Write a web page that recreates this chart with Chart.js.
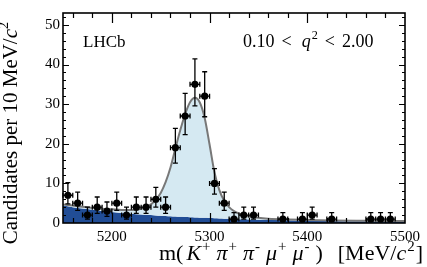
<!DOCTYPE html>
<html>
<head>
<meta charset="utf-8">
<script src="https://cdn.jsdelivr.net/npm/chart.js@4.4.1/dist/chart.umd.min.js"></script>
<style>
  html, body { margin: 0; padding: 0; background: #ffffff; }
  #wrap { width: 427px; height: 267px; }
</style>
</head>
<body>
<div id="wrap"><canvas id="c" width="427" height="267"></canvas></div>
<script>
// ---------- data ----------
const binCenters = [5155,5165,5175,5185,5195,5205,5215,5225,5235,5245,5255,5265,5275,5285,5295,5305,5315,5325,5335,5345,5355,5365,5375,5385,5395,5405,5415,5425,5435,5445,5455,5465,5475,5485,5495];
const counts     = [7,5,2,4,3,5,2,4,4,6,4,19,27,35,32,10,5,1,2,2,0,0,1,0,1,2,0,1,0,0,0,1,1,1,0];
const binHalfWidth = 5;

const curveX   = [5150,5160,5170,5180,5190,5200,5210,5220,5230,5235,5240,5245,5250,5255,5260,5265,5270,5275,5280,5285,5290,5295,5300,5305,5310,5315,5320,5325,5330,5335,5340,5350,5360,5380,5400,5425,5450,5475,5500];
const totalFit = [4.7,4.4,4.1,3.85,3.6,3.45,3.3,3.3,3.6,4.0,4.7,5.9,7.6,10.3,14.0,18.8,23.4,27.5,30.5,31.6,30.4,26.5,19.8,12.8,8.3,5.6,4.0,3.0,2.4,1.95,1.65,1.3,1.1,0.9,0.78,0.66,0.58,0.53,0.48];
const bkgFit   = [4.4,4.0,3.65,3.35,3.05,2.8,2.55,2.35,2.15,2.07,2.0,1.92,1.85,1.78,1.7,1.62,1.55,1.5,1.45,1.4,1.35,1.3,1.25,1.2,1.15,1.1,1.05,1.0,0.97,0.93,0.9,0.85,0.8,0.7,0.6,0.52,0.45,0.4,0.35];

const xTickValues = [5200,5300,5400,5500];
const yTickValues = [0,10,20,30,40,50];
const xRange = [5150,5500];
const yRange = [0,53];

// ---------- styles ----------
const DARK_BLUE = 'rgb(33,77,150)';
const LIGHT_BLUE = 'rgb(213,233,242)';
const FIT_GREY = 'rgb(120,120,120)';
const SERIF = '"Liberation Serif", "DejaVu Serif", serif';

function poissonUp(n){ return Math.sqrt(n + 0.25) + 0.5; }
function poissonDn(n){ return Math.sqrt(n + 0.25) - 0.5; }

function drawRich(ctx, segs, x, y, size, align) {
  let total = 0;
  const parts = segs.map(s => {
    const fs = s.sup ? size * 0.68 : size;
    const font = (s.italic ? 'italic ' : '') + fs + 'px ' + SERIF;
    ctx.font = font;
    const w = ctx.measureText(s.t).width;
    const pad = s.pad || 0;
    total += w + pad;
    return {t: s.t, font, w, pad, dy: s.sup ? -size * 0.42 : 0};
  });
  let cx = align === 'right' ? x - total : (align === 'center' ? x - total / 2 : x);
  ctx.textBaseline = 'alphabetic';
  ctx.textAlign = 'left';
  parts.forEach(p => {
    ctx.font = p.font;
    ctx.fillText(p.t, cx, y + p.dy);
    cx += p.w + p.pad;
  });
}

const decor = {
  id: 'decor',
  afterDatasetsDraw(chart) {
    const ctx = chart.ctx;
    const xs = chart.scales.x, ys = chart.scales.y;
    const a = chart.chartArea;
    ctx.save();
    // error bars
    ctx.strokeStyle = '#000';
    ctx.lineWidth = 1.3;
    ctx.beginPath();
    binCenters.forEach((c, i) => {
      const n = counts[i];
      if (!n) return;
      const px = xs.getPixelForValue(c);
      const py = ys.getPixelForValue(n);
      const xl = xs.getPixelForValue(c - binHalfWidth);
      const xr = xs.getPixelForValue(c + binHalfWidth);
      const yt = ys.getPixelForValue(n + poissonUp(n));
      const yb = ys.getPixelForValue(n - poissonDn(n));
      ctx.moveTo(xl, py); ctx.lineTo(xr, py);
      ctx.moveTo(xl, py - 2.5); ctx.lineTo(xl, py + 2.5);
      ctx.moveTo(xr, py - 2.5); ctx.lineTo(xr, py + 2.5);
      ctx.moveTo(px, yt); ctx.lineTo(px, Math.min(yb, a.bottom));
      ctx.moveTo(px - 2.5, yt); ctx.lineTo(px + 2.5, yt);
      if (yb < a.bottom - 1) { ctx.moveTo(px - 2.5, yb); ctx.lineTo(px + 2.5, yb); }
    });
    ctx.stroke();
    // frame
    ctx.lineWidth = 1.6;
    ctx.strokeRect(a.left, a.top, a.right - a.left, a.bottom - a.top);
    // ticks
    ctx.lineWidth = 1.2;
    ctx.beginPath();
    for (let v = 5160; v < xRange[1]; v += 20) {
      const px = Math.round(xs.getPixelForValue(v)) + 0.5;
      const len = (v % 100 === 0) ? 10 : 5;
      ctx.moveTo(px, a.bottom); ctx.lineTo(px, a.bottom - len);
      ctx.moveTo(px, a.top); ctx.lineTo(px, a.top + len);
    }
    for (let v = 2; v < yRange[1]; v += 2) {
      const py = Math.round(ys.getPixelForValue(v)) + 0.5;
      const len = (v % 10 === 0) ? 6 : 3;
      ctx.moveTo(a.left, py); ctx.lineTo(a.left + len, py);
      ctx.moveTo(a.right, py); ctx.lineTo(a.right - len, py);
    }
    ctx.stroke();
    // texts
    ctx.fillStyle = '#000';
    drawRich(ctx, [{t:'LHCb'}], 83, 47, 17, 'left');
    drawRich(ctx, [{t:'0.10', pad:7},{t:'<', pad:10},{t:'q',italic:true, pad:1},{t:'2',sup:true, pad:7},{t:'<', pad:7},{t:'2.00'}], 243, 47, 18, 'left');
    drawRich(ctx, [{t:'m(', pad:3},{t:'K',italic:true, pad:1},{t:'+',sup:true, pad:6},{t:'π',italic:true, pad:1},{t:'+',sup:true, pad:6},
                   {t:'π',italic:true, pad:1},{t:'-',sup:true, pad:6},{t:'μ',italic:true, pad:1},{t:'+',sup:true, pad:6},
                   {t:'μ',italic:true, pad:1},{t:'-',sup:true, pad:6},{t:')', pad:15},{t:'[MeV/'},{t:'c',italic:true, pad:1},{t:'2',sup:true, pad:1},{t:']'}],
             423, 260, 22, 'right');
    ctx.translate(17, 133);
    ctx.rotate(-Math.PI / 2);
    drawRich(ctx, [{t:'Candidates per 10 MeV/'},{t:'c',italic:true},{t:'2',sup:true}], 0, 0, 21, 'center');
    ctx.restore();
  }
};

const pts = [];
binCenters.forEach((c, i) => { if (counts[i]) pts.push({x: c, y: counts[i]}); });

new Chart(document.getElementById('c'), {
  type: 'scatter',
  data: {
    datasets: [
      { label: 'background', data: curveX.map((x, i) => ({x, y: bkgFit[i]})), showLine: true,
        fill: 'origin', backgroundColor: DARK_BLUE, borderWidth: 0, pointRadius: 0,
        cubicInterpolationMode: 'monotone', order: 3 },
      { label: 'total', data: curveX.map((x, i) => ({x, y: totalFit[i]})), showLine: true,
        fill: 0, backgroundColor: LIGHT_BLUE, borderColor: FIT_GREY, borderWidth: 2, pointRadius: 0,
        cubicInterpolationMode: 'monotone', order: 2 },
      { label: 'data', data: pts, showLine: false, pointRadius: 3.6, pointBackgroundColor: '#000',
        pointBorderWidth: 0, order: 0 }
    ]
  },
  options: {
    responsive: false,
    animation: false,
    devicePixelRatio: 1,
    layout: { padding: { top: 13, right: 22, left: 0, bottom: 0 } },
    plugins: { legend: { display: false }, tooltip: { enabled: false } },
    scales: {
      x: {
        type: 'linear', min: xRange[0], max: xRange[1],
        afterBuildTicks: s => { s.ticks = xTickValues.map(v => ({value: v})); },
        afterFit: s => { s.height = 44; },
        grid: { display: false, drawTicks: false, tickLength: 0 },
        border: { display: false },
        ticks: { color: '#000', font: { family: SERIF, size: 15 }, padding: 5, maxRotation: 0, autoSkip: false,
                 callback: v => String(v) }
      },
      y: {
        type: 'linear', min: yRange[0], max: yRange[1],
        afterBuildTicks: s => { s.ticks = yTickValues.map(v => ({value: v})); },
        afterFit: s => { s.width = 63; },
        grid: { display: false, drawTicks: false, tickLength: 0 },
        border: { display: false },
        ticks: { color: '#000', font: { family: SERIF, size: 15 }, padding: 3, callback: v => String(v) }
      }
    }
  },
  plugins: [decor]
});
</script>
</body>
</html>
